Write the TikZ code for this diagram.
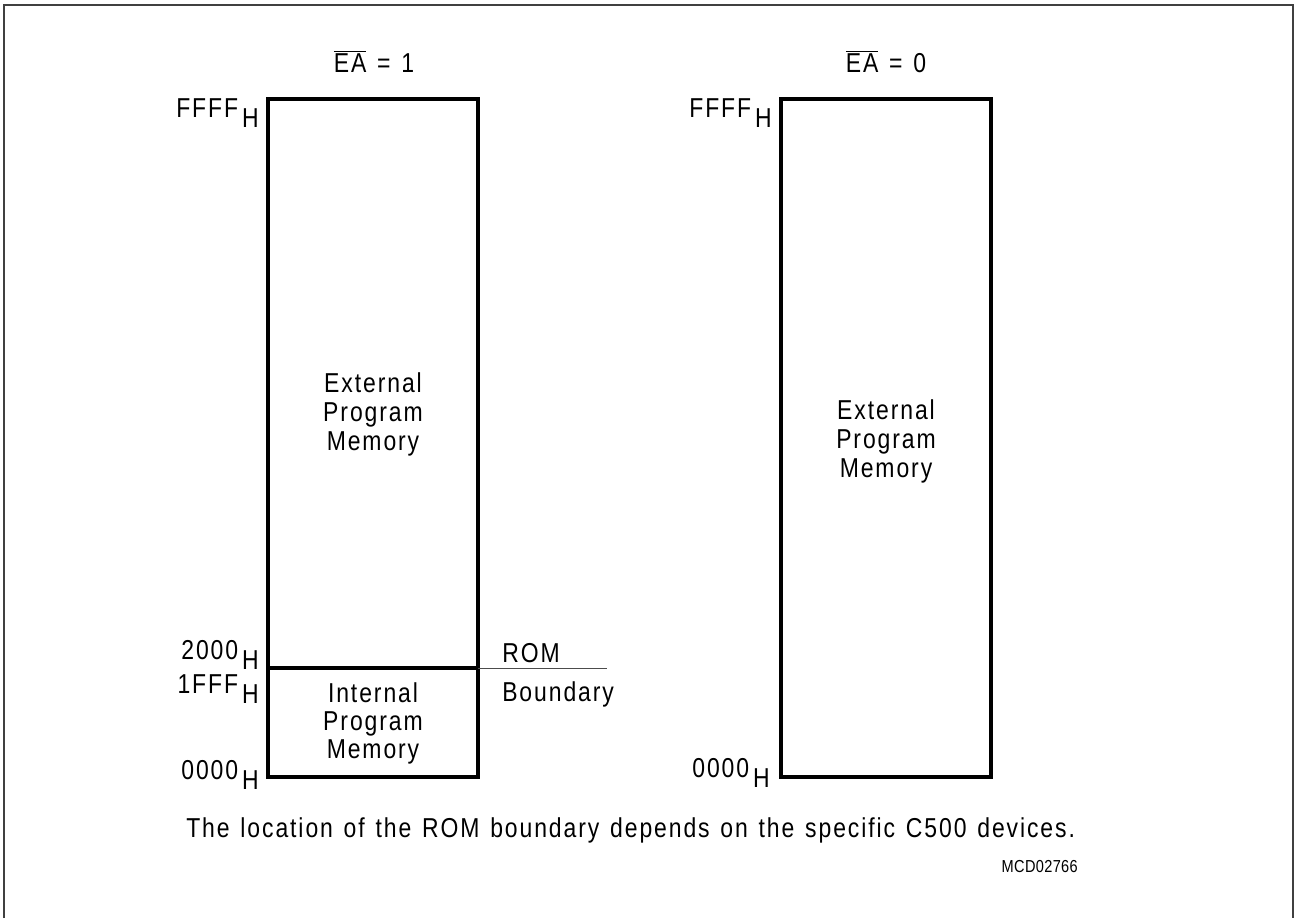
\documentclass[tikz,border=0pt]{standalone}
\usepackage{fontspec}
\setmainfont{Liberation Sans}[FakeStretch=0.84,LetterSpace=7,WordSpace=1.3]
\newcommand\hsub[1]{#1\kern3pt\raisebox{-7.5pt}{H}}
\begin{document}
\begin{tikzpicture}[x=0.75pt,y=-0.75pt,
  lbl/.style={inner sep=0pt,font=\fontsize{20.5}{23}\selectfont},
  box/.style={line width=3pt},
  frame/.style={line width=1.5pt,draw=black!75}]
\useasboundingbox (0,0) rectangle (1295,918);
% outer frame (open at bottom)
\draw[frame] (4,918) -- (4,5) -- (1293,5) -- (1293,918);
% left memory map
\coordinate (l1) at (268,99);
\coordinate (l2) at (478,777);
\draw[box] (l1) rectangle (l2);
\coordinate (dl) at (268,668);
\coordinate (dr) at (478,668);
\draw[box] (dl) -- (dr);
\coordinate (rbend) at (607,668);
\draw[line width=0.75pt,draw=black!70] (dr) -- (rbend);
% right memory map
\coordinate (r1) at (781,99);
\coordinate (r2) at (991,777);
\draw[box] (r1) rectangle (r2);
% headings
\node[lbl,anchor=base] (ea1) at (374,72) {$\overline{\mbox{EA}}$ = 1};
\node[lbl,anchor=base] (ea0) at (886,72) {$\overline{\mbox{EA}}$ = 0};
% address labels
\node[lbl,anchor=base east] (lffff) at (259,117) {\hsub{FFFF}};
\node[lbl,anchor=base east] (l2000) at (259,659) {\hsub{2000}};
\node[lbl,anchor=base east] (l1fff) at (259,693) {\hsub{1FFF}};
\node[lbl,anchor=base east] (l0000) at (259,779) {\hsub{0000}};
\node[lbl,anchor=base east] (rffff) at (772,117) {\hsub{FFFF}};
\node[lbl,anchor=base east] (r0000) at (770,777) {\hsub{0000}};
% texts in boxes
\node[lbl,anchor=base] (le1) at (373,392) {External};
\node[lbl,anchor=base] (le2) at (373,421) {Program};
\node[lbl,anchor=base] (le3) at (373,450) {Memory};
\node[lbl,anchor=base] (li1) at (373,702) {Internal};
\node[lbl,anchor=base] (li2) at (373,730) {Program};
\node[lbl,anchor=base] (li3) at (373,758) {Memory};
\node[lbl,anchor=base] (re1) at (886,419) {External};
\node[lbl,anchor=base] (re2) at (886,448) {Program};
\node[lbl,anchor=base] (re3) at (886,477) {Memory};
% ROM boundary
\node[lbl,anchor=base west] (rom) at (502,662) {ROM};
\node[lbl,anchor=base west] (bnd) at (502,701) {Boundary};
% footnote
\node[lbl,anchor=base west] (note) at (186,837) {The location of the ROM boundary depends on the specific C500 devices.};
\node[inner sep=0pt,anchor=base east,font=\fontsize{13}{15}\selectfont\addfontfeatures{LetterSpace=2}] (mcd) at (1078,872) {MCD02766};
\end{tikzpicture}
\end{document}
